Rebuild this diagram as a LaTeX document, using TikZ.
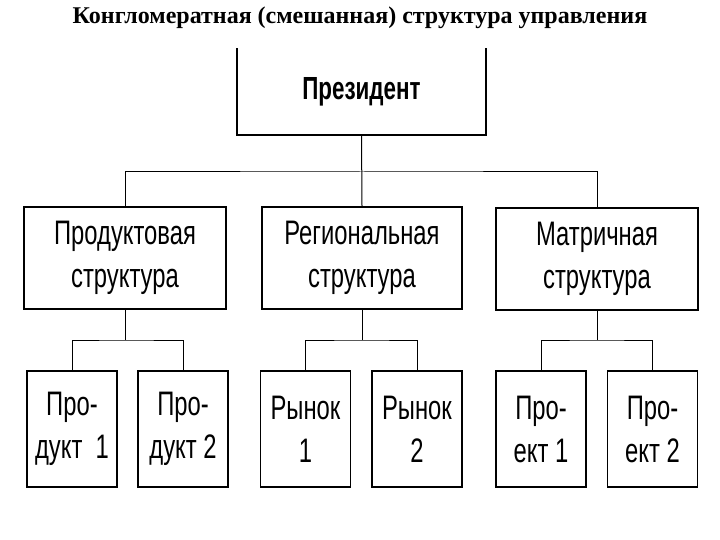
\documentclass[tikz,border=0pt]{standalone}
\usepackage{fontspec}
\setmainfont{Liberation Serif}
\newfontfamily\boxfont[FakeStretch=0.7]{Liberation Sans}
\begin{document}
\begin{tikzpicture}[x=1pt,y=-1pt,
  unit/.style={draw,line width=1.8pt,inner sep=0pt,align=center,
    font=\boxfont\fontsize{34}{43}\selectfont},
  sbox/.style={unit,minimum width=202pt,minimum height=102pt},
  bbox/.style={unit,minimum width=90pt,minimum height=116pt},
  link/.style={line width=1pt}]
\useasboundingbox (0,0) rectangle (720,540);
\node[font=\bfseries\fontsize{24}{28}\selectfont] (title) at (360,18) {Конгломератная (смешанная) структура управления};
\node[unit,draw=none,minimum width=247pt,minimum height=85pt,font=\boxfont\bfseries\fontsize{32}{36}\selectfont] (pres) at (361.5,91.5) {Президент};
\draw[line width=1.8pt] (pres.north west) -- (pres.south west) -- (pres.south east) -- (pres.north east);
\node[sbox] (s1) at (125,258) {Продуктовая\\структура};
\node[sbox,minimum width=200pt] (s2) at (362,258) {Региональная\\структура};
\node[sbox] (s3) at (597,259) {Матричная\\структура};
\coordinate (j0) at (362,172);
\draw[link] (pres.south) -- (s2.north);
\draw[link] (s1.north) |- (j0) -| (s3.north);
\node[bbox] (b1) at (72,429) {Про-\\дукт\ \ 1};
\node[bbox] (b2) at (183,429) {Про-\\дукт\ 2};
\node[bbox] (b3) at (305.5,429) {Рынок\\1};
\node[bbox] (b4) at (417,429) {Рынок\\2};
\node[bbox] (b5) at (541,429) {Про-\\ект 1};
\node[bbox] (b6) at (652.5,429) {Про-\\ект 2};
\coordinate (j1) at (125,340);
\coordinate (j2) at (362,340);
\coordinate (j3) at (597,340);
\draw[link] (s1.south) -- (j1);
\draw[link] (s2.south) -- (j2);
\draw[link] (s3.south) -- (j3);
\draw[link] (b1.north) |- (j1) -| (b2.north);
\draw[link] (b3.north) |- (j2) -| (b4.north);
\draw[link] (b5.north) |- (j3) -| (b6.north);
\end{tikzpicture}
\end{document}
